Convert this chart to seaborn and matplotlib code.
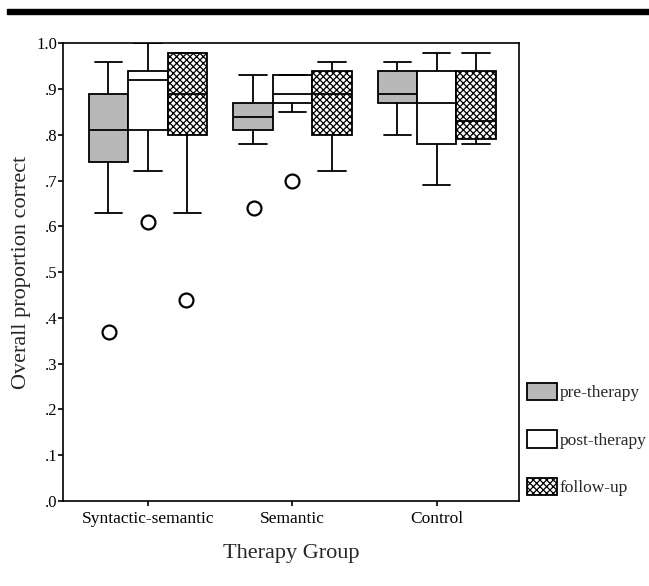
import matplotlib
matplotlib.use("Agg")
import matplotlib.pyplot as plt
from matplotlib.patches import Patch, Rectangle
from matplotlib.colors import to_rgb
from matplotlib.ticker import FuncFormatter
import numpy as np
import pandas as pd
import seaborn as sns

groups = ["Syntactic-semantic", "Semantic", "Control"]
phases = ["pre-therapy", "post-therapy", "follow-up"]

# per group: lower whisker, Q1, median, Q3, upper whisker
pre_therapy = [[.63, .74, .81, .89, .96],
               [.78, .81, .84, .87, .93],
               [.80, .87, .89, .94, .96]]
post_therapy = [[.72, .81, .92, .94, 1.00],
                [.85, .87, .89, .93, .93],
                [.69, .78, .87, .94, .98]]
follow_up = [[.63, .80, .89, .98, .98],
             [.72, .80, .89, .94, .96],
             [.78, .79, .83, .94, .98]]

outlier_group = ["Syntactic-semantic", "Syntactic-semantic", "Syntactic-semantic",
                 "Semantic", "Semantic"]
outlier_phase = ["pre-therapy", "post-therapy", "follow-up",
                 "pre-therapy", "post-therapy"]
outlier_value = [.37, .61, .44, .64, .70]

rows = []
for phase, summaries in zip(phases, [pre_therapy, post_therapy, follow_up]):
    for g, vals in zip(groups, summaries):
        for v in vals:
            rows.append({"group": g, "phase": phase, "value": v})
df = pd.DataFrame(rows)
out_df = pd.DataFrame({"group": outlier_group, "phase": outlier_phase,
                       "value": outlier_value})

sns.set_style("ticks")
plt.rcParams["font.family"] = ["Liberation Serif", "DejaVu Serif"]
plt.rcParams["hatch.linewidth"] = 0.9
plt.rcParams["axes.edgecolor"] = "black"
plt.rcParams["axes.linewidth"] = 1.2
plt.rcParams["xtick.color"] = "black"
plt.rcParams["ytick.color"] = "black"

gray = "#b8b8b8"
fu_color = "#fefefe"
hatch = "xxxxx"
palette = {"pre-therapy": gray, "post-therapy": "#ffffff", "follow-up": fu_color}

fig = plt.figure(figsize=(6.49, 5.86), dpi=100)
ax = fig.add_axes([0.0978, 0.1456, 0.7019, 0.7802])

sns.boxplot(data=df, x="group", y="value", hue="phase", order=groups,
            hue_order=phases, palette=palette, whis=(0, 100), width=0.82,
            saturation=1, linecolor="black", linewidth=1.3, legend=False,
            capwidths=0.19, ax=ax)

for p in ax.patches:
    if np.allclose(p.get_facecolor()[:3], to_rgb(fu_color)):
        p.set_hatch(hatch)

sns.stripplot(data=out_df, x="group", y="value", hue="phase", order=groups,
              hue_order=phases, dodge=True, jitter=False,
              palette={k: "white" for k in phases}, size=10,
              edgecolor="black", linewidth=1.6, legend=False, ax=ax, zorder=5)

ax.set_xlim(-0.585, 2.57)
ax.set_ylim(0, 1.0)
ax.set_yticks(np.arange(0, 1.01, 0.1))
ax.yaxis.set_major_formatter(FuncFormatter(lambda v, _: f"{v:.1f}".lstrip("0")))
ax.tick_params(axis="y", labelsize=12, length=3.5, width=1.2, pad=1)
ax.tick_params(axis="x", labelsize=12.5, length=3.5, width=1.2, pad=4)
for s in ax.spines.values():
    s.set_visible(True)

ax.set_xlabel("Therapy Group", fontsize=16)
ax.set_ylabel("Overall proportion correct", fontsize=16)
ax.xaxis.set_label_coords(0.5, -0.094)
ax.yaxis.set_label_coords(-0.072, 0.5)

handles = [Patch(facecolor=gray, edgecolor="black", linewidth=1.3),
           Patch(facecolor="white", edgecolor="black", linewidth=1.3),
           Patch(facecolor="white", edgecolor="black", linewidth=1.3, hatch=hatch)]
fig.legend(handles, phases, loc="upper left", bbox_to_anchor=(527 / 649, 1 - 383 / 586),
           frameon=False, fontsize=12.5, handlelength=1.73, handleheight=1.15,
           labelspacing=1.67, handletextpad=0.17, borderpad=0, borderaxespad=0)

# thick rule across the top of the page
fig.add_artist(Rectangle((7 / 649, 1 - 14 / 586), 1, 5 / 586,
                         transform=fig.transFigure, color="black"))

fig.savefig("out.png", dpi=100)
